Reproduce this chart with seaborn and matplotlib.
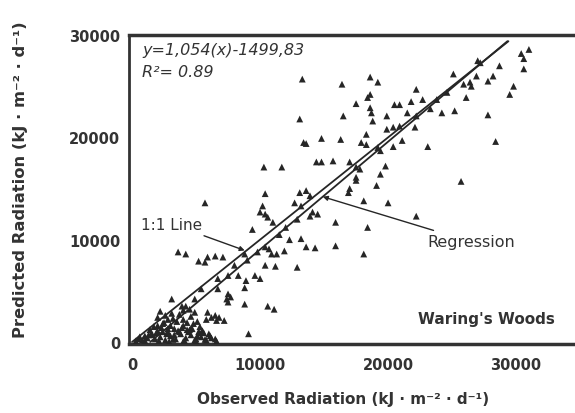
import numpy as np
import matplotlib
matplotlib.use("Agg")
import matplotlib.pyplot as plt
import seaborn as sns

# observed vs predicted daily radiation (kJ m-2 d-1)
observed = [
    13300, 16400, 18600, 19200, 22200, 18600, 18400, 17500, 20500, 20900, 21800, 18600,
    18700, 18800, 19900, 21500, 13100, 16500, 20400, 22100, 18300, 13400, 13600, 14800,
    16300, 17900, 18300, 19200, 19400, 20400, 21100, 10300, 11700, 14400, 14800, 15700,
    17000, 17500, 17800, 19800, 19400, 17500, 19100, 17000, 16900, 10400, 13100, 13600,
    13900, 13200, 18100, 20000, 10200, 22200, 14100, 14500,
    31000, 30400, 30600, 30600, 27000, 28700, 28200, 27800, 25100, 26400, 26500, 26100,
    29800, 29500, 22700, 24200, 25200, 23300, 27800, 23100, 28400, 25700,
    19900, 20900, 22200, 23800, 24600, 25900, 26900, 27200,
    17500, 15900, 18400, 15900, 18100, 12300, 13200, 13600, 14300, 11900, 11300, 10900,
    11200, 12900, 13900, 12700, 12900,
    5700, 10000, 10400, 10600, 9400, 11000, 3600, 4200, 5200, 5700, 5900, 6500,
    7100, 8800, 10400, 10700, 8000, 8300, 6700, 8900, 8800, 9600, 10000, 10400,
    5400, 7500, 7400, 8800, 3100, 4200, 4500, 4000, 5900, 6500, 6800, 6200,
    10600, 11100, 9100, 2800, 2400, 2000,
    4900, 5800, 6600, 7200, 7500, 7700, 4600, 5200, 4000, 3300, 2800, 2000,
    1500, 1000, 500, 2500,
    7500, 6700, 4900, 3900, 9000, 9800, 11500, 12000,
    800, 1200, 1800, 2200, 2600, 3000, 3400, 3800, 4200, 4600, 5000, 5400,
    5800, 6200, 6600, 1400, 2400, 3600, 4400, 5600, 3000, 3500, 4800, 5300,
    1900, 300, 6000, 2900, 4000, 5000,
    600, 1000, 1600, 2100, 2700, 3200, 3700, 4100, 4500, 4900, 5300, 5700,
    6100, 6500, 1300, 1700, 2300, 2800, 3300, 3900, 4300, 4700, 5100, 5500,
    2000, 2600, 3200, 4000, 4600, 5100, 3100, 3700, 4300, 2200,
]
predicted = [
    25700, 25200, 25900, 25400, 24700, 24200, 23900, 23300, 23200, 23200, 23500, 22900,
    22400, 21600, 22100, 22400, 21800, 22100, 21000, 21000, 20300, 19500, 19400, 19900,
    19800, 19500, 19300, 19000, 18700, 19100, 19700, 17100, 17100, 17600, 17600, 17700,
    17600, 17100, 16900, 17200, 16400, 16100, 15300, 15000, 14600, 14500, 14600, 14800,
    14300, 13300, 13800, 13600, 13300, 12300, 12700, 12500,
    28600, 28200, 27700, 26700, 27500, 27000, 26000, 25500, 26200, 25400, 25000, 23900,
    25000, 24200, 23700, 22400, 22600, 22800, 22200, 19100, 19600, 15700,
    20800, 21100, 22100, 23700, 24400, 25200, 26000, 27300,
    15800, 11700, 11200, 9400, 8600, 10000, 10100, 9300, 9200, 8900, 8600, 8600,
    7400, 7300, 12300, 13600, 12000,
    13600, 12700, 12500, 12200, 11000, 11700, 8800, 8600, 7900, 7800, 8300, 8400,
    8300, 8600, 9300, 9100, 7500, 6500, 6200, 6000, 5300, 6500, 6200, 7500,
    5200, 4700, 4200, 3700, 4200, 3500, 3200, 3100, 2900, 2600, 2400, 2400,
    3500, 3200, 800, 2200, 1800, 1600,
    2900, 2200, 2100, 2100, 3900, 4400, 1300, 1000, 1600, 1300, 1000, 1100,
    800, 600, 300, 1900,
    6500, 5200, 4200, 3500, 8000, 8800, 10500, 11200,
    200, 400, 300, 500, 200, 600, 300, 800, 400, 700, 300, 500,
    200, 400, 100, 1200, 1000, 1100, 1000, 900, 1600, 2000, 1800, 1500,
    900, 100, 800, 50, 50, 100,
    500, 150, 700, 150, 800, 250, 1000, 150, 1200, 200, 900, 250,
    600, 300, 700, 1500, 1400, 1300, 700, 1400, 1200, 1300, 600, 1100,
    2400, 2600, 2300, 2200, 2500, 2000, 2800, 2700, 1900, 3000,
]

# fitted line from the chart: y = 1.054 x - 1499.83
slope = 1.054
intercept = -1499.83
one_to_one_x = [0, 29400]
reg_x = [1423, 29320]
reg_y = [slope * v + intercept for v in reg_x]

x_ticks = [0, 10000, 20000, 30000]
y_ticks = [0, 10000, 20000, 30000]

sns.set_theme(style="white")
plt.rcParams['font.family'] = ['DejaVu Sans']

ink = "#262626"
fig = plt.figure(figsize=(5.75, 4.14), dpi=100)
ax = fig.add_axes([0.2235, 0.1655, 0.7765, 0.7475])

sns.scatterplot(x=observed, y=predicted, marker="^", s=24, color=ink,
                edgecolor="none", linewidth=0, ax=ax, zorder=3)
sns.lineplot(x=one_to_one_x, y=one_to_one_x, color=ink, linewidth=1.3, ax=ax,
             sort=False, zorder=4)
sns.lineplot(x=reg_x, y=reg_y, color=ink, linewidth=1.3, ax=ax, sort=False, zorder=4)

ax.set_xlim(-273, 34600)
ax.set_ylim(-245, 30010)
ax.set_xticks(x_ticks)
ax.set_yticks(y_ticks)
ax.set_xticklabels([str(t) for t in x_ticks], fontsize=10.5, fontweight="bold", color="#333333")
ax.set_yticklabels([str(t) for t in y_ticks], fontsize=10.5, fontweight="bold", color="#333333")
ax.tick_params(axis="x", length=0, pad=9)
ax.tick_params(axis="y", direction="in", length=4, width=1, color="#555555", pad=6)
ax.set_yticks(np.arange(1000, 30000, 1000), minor=True)
ax.tick_params(axis="y", which="minor", direction="in", length=1.5, width=0.8, color="#888888")

for side in ["left", "top", "bottom"]:
    ax.spines[side].set_color("#333333")
ax.spines["left"].set_linewidth(2)
ax.spines["top"].set_linewidth(2.5)
ax.spines["bottom"].set_linewidth(2.5)
ax.spines["right"].set_visible(False)

ax.set_xlabel("Observed Radiation (kJ · m⁻² · d⁻¹)", fontsize=11, fontweight="bold", color="#333333")
ax.set_ylabel("Predicted Radiation (kJ · m⁻² · d⁻¹)", fontsize=11.8, fontweight="bold", color="#333333")
ax.xaxis.set_label_coords(0.48, -0.15)
ax.yaxis.set_label_coords(-0.225, 0.535)

ax.text(800, 28600, "y=1,054(x)-1499,83", fontsize=11.5, style="italic", color="#333333", va="center")
ax.text(800, 26400, "R²= 0.89", fontsize=11.5, style="italic", color="#333333", va="center")
ax.text(22340, 2250, "Waring's Woods", fontsize=11, fontweight="bold", color="#333333", va="center")

ax.annotate("1:1 Line", xy=(8800, 8950), xytext=(700, 11530), fontsize=11, color="#333333",
            va="center", ha="left",
            arrowprops=dict(arrowstyle="-|>", color=ink, lw=1, mutation_scale=7, shrinkA=2, shrinkB=0))
ax.annotate("Regression", xy=(14900, 14200), xytext=(23100, 9775), fontsize=11.5, color="#333333",
            va="center", ha="left",
            arrowprops=dict(arrowstyle="-|>", color=ink, lw=1, mutation_scale=7, shrinkA=2, shrinkB=0))

fig.savefig("out.png", dpi=100)
